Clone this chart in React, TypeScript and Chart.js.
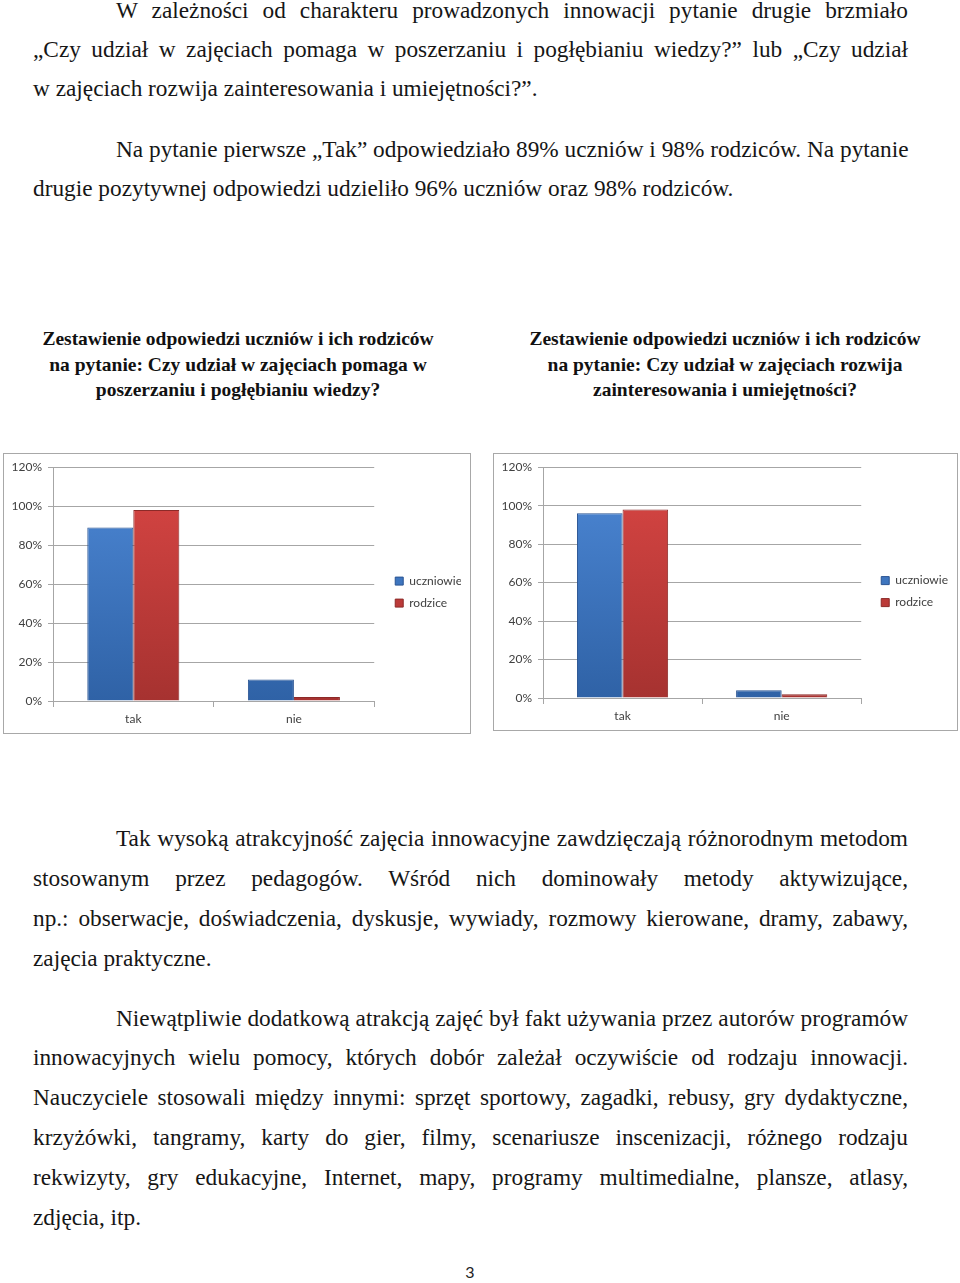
import React, { useEffect, useRef } from "react";
import { Chart, registerables } from "chart.js";

Chart.register(...registerables);

const categories = ["tak", "nie"];
const seriesNames = ["uczniowie", "rodzice"];
const chart1Uczniowie = [89, 11];
const chart1Rodzice = [98, 2];
const chart2Uczniowie = [96, 4];
const chart2Rodzice = [98, 2];
const yMin = 0;
const yMax = 120;
const yStep = 20;

const chart1Title = [
  "Zestawienie odpowiedzi uczniów i ich rodziców",
  "na pytanie: Czy udział w zajęciach pomaga w",
  "poszerzaniu i pogłębianiu wiedzy?",
];
const chart2Title = [
  "Zestawienie odpowiedzi uczniów i ich rodziców",
  "na pytanie: Czy udział w zajęciach rozwija",
  "zainteresowania i umiejętności?",
];

type Line = { t: string; x: number; y: number; j: boolean };
const textLines: Line[] = [
  { t: "W zależności od charakteru prowadzonych innowacji pytanie drugie brzmiało", x: 116, y: 10, j: true },
  { t: "„Czy udział w zajęciach pomaga w poszerzaniu i pogłębianiu wiedzy?” lub „Czy udział", x: 33, y: 49, j: true },
  { t: "w zajęciach rozwija zainteresowania i umiejętności?”.", x: 33, y: 88, j: false },
  { t: "Na pytanie pierwsze „Tak” odpowiedziało 89% uczniów i 98% rodziców. Na pytanie", x: 116, y: 149, j: true },
  { t: "drugie pozytywnej odpowiedzi udzieliło 96% uczniów oraz 98% rodziców.", x: 33, y: 188, j: false },
  { t: "Tak wysoką atrakcyjność zajęcia innowacyjne zawdzięczają różnorodnym metodom", x: 116, y: 838, j: true },
  { t: "stosowanym przez pedagogów. Wśród nich dominowały metody aktywizujące,", x: 33, y: 878, j: true },
  { t: "np.: obserwacje, doświadczenia, dyskusje, wywiady, rozmowy kierowane, dramy, zabawy,", x: 33, y: 918, j: true },
  { t: "zajęcia praktyczne.", x: 33, y: 958, j: false },
  { t: "Niewątpliwie dodatkową atrakcją zajęć był fakt używania przez autorów programów", x: 116, y: 1018, j: true },
  { t: "innowacyjnych wielu pomocy, których dobór zależał oczywiście od rodzaju innowacji.", x: 33, y: 1057, j: true },
  { t: "Nauczyciele stosowali między innymi: sprzęt sportowy, zagadki, rebusy, gry dydaktyczne,", x: 33, y: 1097, j: true },
  { t: "krzyżówki, tangramy, karty do gier, filmy, scenariusze inscenizacji, różnego rodzaju", x: 33, y: 1137, j: true },
  { t: "rekwizyty, gry edukacyjne, Internet, mapy, programy multimedialne, plansze, atlasy,", x: 33, y: 1177, j: true },
  { t: "zdjęcia, itp.", x: 33, y: 1217, j: false },
];

const FONT = { family: "Lato, 'Open Sans', sans-serif", size: 12 };
const TXT = "#404040";
const GRID = "#a6a6a6";

function vgrad(top: string, bottom: string) {
  return (ctx: any) => {
    const chart = ctx.chart;
    const a = chart.chartArea;
    if (!a) return bottom;
    const g = chart.ctx.createLinearGradient(0, a.top, 0, a.bottom);
    g.addColorStop(0, top);
    g.addColorStop(1, bottom);
    return g;
  };
}

const legendShift = {
  id: "legendShift",
  beforeDraw(chart: any, _args: any, opts: any) {
    const lg = chart.legend;
    const a = chart.chartArea;
    if (!lg || !a) return;
    lg.left = a.right + (opts.dx || 0);
    lg.top = a.top + (opts.dy || 0);
    lg.bottom = a.bottom + (opts.dy || 0);
  },
};

type BarProps = {
  uczniowie: number[];
  rodzice: number[];
  width: number;
  height: number;
  padRight: number;
  padTop: number;
  dx: number;
  dy: number;
};

function BarChart(p: BarProps) {
  const ref = useRef<HTMLCanvasElement | null>(null);
  useEffect(() => {
    if (!ref.current) return;
    const chart = new Chart(ref.current, {
      type: "bar",
      data: {
        labels: categories,
        datasets: [
          {
            label: seriesNames[0],
            data: p.uczniowie,
            backgroundColor: vgrad("#4d88d6", "#2f62a6"),
            borderColor: "#2a5492",
            borderWidth: 1,
            borderSkipped: "bottom",
            categoryPercentage: 0.573,
            barPercentage: 1,
          },
          {
            label: seriesNames[1],
            data: p.rodzice,
            backgroundColor: vgrad("#d94644", "#a63230"),
            borderColor: "#8c2a28",
            borderWidth: 1,
            borderSkipped: "bottom",
            categoryPercentage: 0.573,
            barPercentage: 1,
          },
        ],
      },
      options: {
        animation: false,
        responsive: false,
        maintainAspectRatio: false,
        layout: { padding: { left: 0, top: p.padTop, right: p.padRight, bottom: 0 } },
        plugins: {
          legend: {
            position: "right",
            align: "center",
            labels: { boxWidth: 8, boxHeight: 8, padding: 10, font: FONT, color: TXT },
          },
          tooltip: { enabled: false },
          legendShift: { dx: p.dx, dy: p.dy },
        } as any,
        scales: {
          x: {
            grid: { display: true, drawOnChartArea: false, drawTicks: true, tickLength: 6, color: GRID, offset: true },
            border: { display: true, color: GRID },
            ticks: { font: FONT, color: TXT, padding: 5 },
            afterFit: (s: any) => {
              s.height = 32;
            },
          },
          y: {
            min: yMin,
            max: yMax,
            ticks: { stepSize: yStep, font: FONT, color: TXT, padding: 6, callback: (v: any) => v + "%" },
            grid: { color: GRID, tickLength: 5 },
            border: { display: true, color: GRID },
            afterFit: (s: any) => {
              s.width = 49;
            },
          },
        },
      },
      plugins: [legendShift],
    });
    return () => chart.destroy();
  }, []);
  return <canvas ref={ref} width={p.width} height={p.height} style={{ display: "block", width: p.width, height: p.height }} />;
}

const serif = "'Liberation Serif', 'Times New Roman', serif";

export default function App() {
  return (
    <div style={{ position: "absolute", left: 0, top: 0, width: 960, height: 1283, background: "#fff", overflow: "hidden", fontFamily: serif }}>
      {textLines.map((l, i) => (
        <div
          key={i}
          style={{
            position: "absolute",
            left: l.x,
            top: l.y - 13,
            width: 908 - l.x,
            height: 26,
            lineHeight: "26px",
            fontSize: 23.3,
            color: "#161616",
            textAlign: l.j ? "justify" : "left",
            textAlignLast: l.j ? "justify" : "left",
            whiteSpace: "nowrap",
          } as any}
        >
          {l.t}
        </div>
      ))}
      {[chart1Title, chart2Title].map((title, ti) => (
        <div key={ti} style={{ position: "absolute", left: ti === 0 ? 18 : 505, top: 326, width: 440, textAlign: "center", fontWeight: "bold", fontSize: 19.5, lineHeight: "25.5px", color: "#111" }}>
          {title.map((s, i) => (
            <div key={i} style={{ whiteSpace: "nowrap" }}>{s}</div>
          ))}
        </div>
      ))}
      <div style={{ position: "absolute", left: 3, top: 453, width: 466, height: 279, border: "1px solid #a8a8a8" }}>
        <BarChart uczniowie={chart1Uczniowie} rodzice={chart1Rodzice} width={466} height={279} padRight={9} padTop={13} dx={11} dy={8} />
      </div>
      <div style={{ position: "absolute", left: 493, top: 453, width: 463, height: 276, border: "1px solid #a8a8a8" }}>
        <BarChart uczniowie={chart2Uczniowie} rodzice={chart2Rodzice} width={463} height={276} padRight={9} padTop={13} dx={10} dy={9} />
      </div>
      <div style={{ position: "absolute", left: 460, top: 1262, width: 20, textAlign: "center", fontFamily: "Lato, sans-serif", fontSize: 16, lineHeight: "20px", color: "#222" }}>3</div>
    </div>
  );
}
